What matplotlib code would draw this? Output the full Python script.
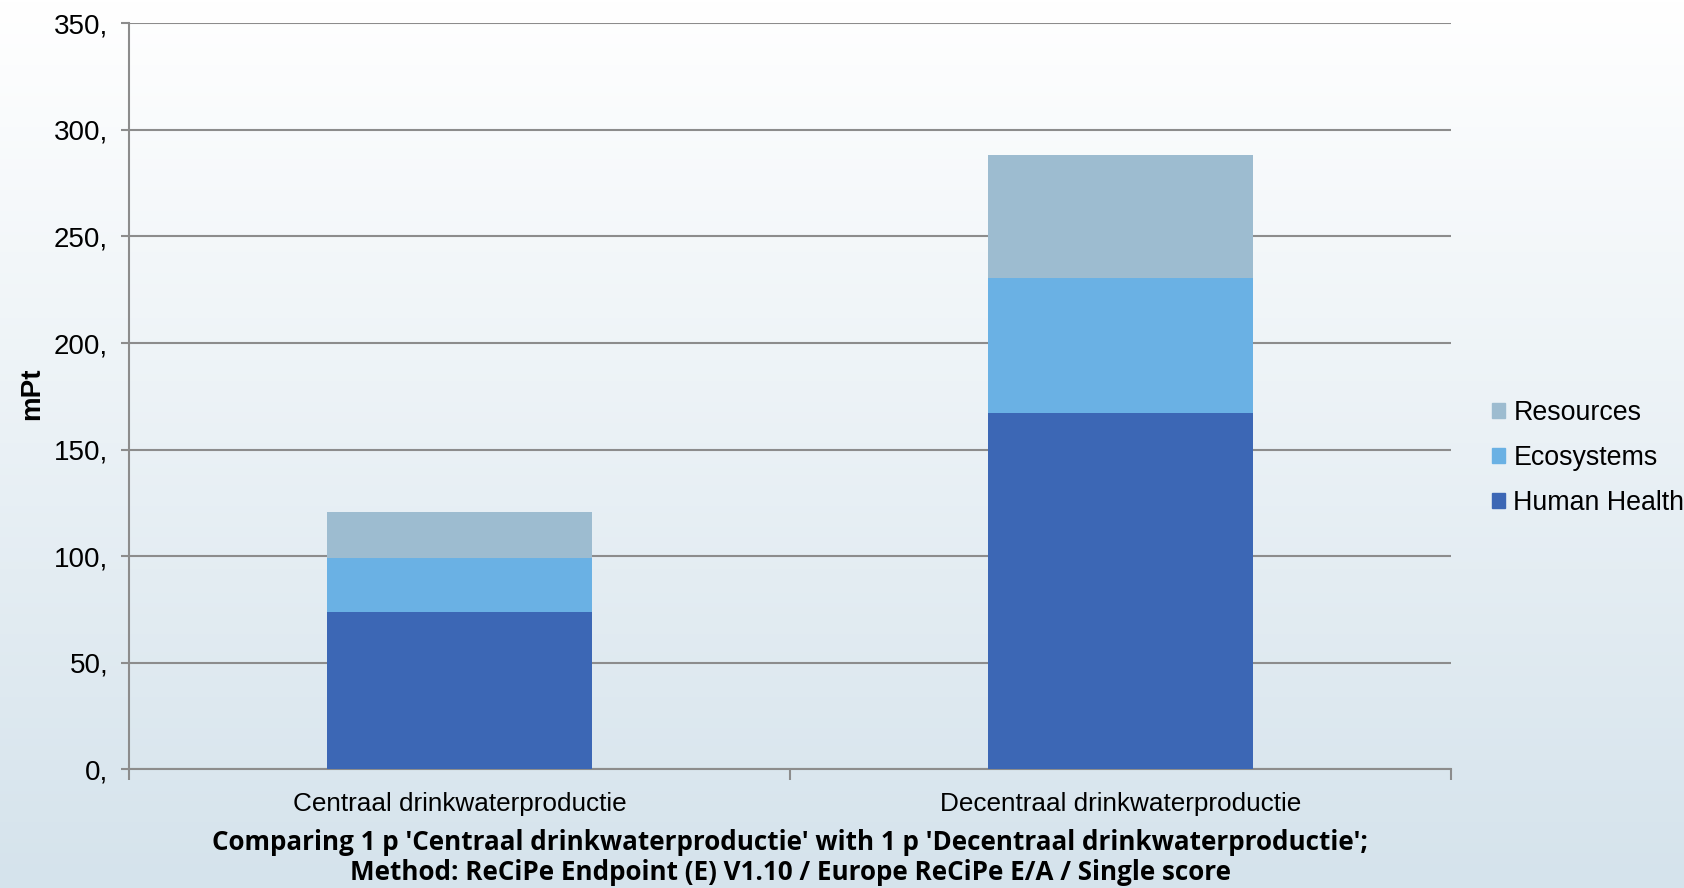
import matplotlib
matplotlib.use("Agg")
import matplotlib.pyplot as plt
import numpy as np
from matplotlib.ticker import FuncFormatter
from matplotlib.patches import Patch

categories = ["Centraal drinkwaterproductie", "Decentraal drinkwaterproductie"]
human_health = [74.0, 167.3]
ecosystems = [25.0, 63.4]
resources = [21.9, 57.6]
series_names = ["Human Health", "Ecosystems", "Resources"]
colors = ["#3c67b5", "#6ab1e4", "#9dbcd0"]
yticks = [0, 50, 100, 150, 200, 250, 300, 350]
title_lines = ["Comparing 1 p 'Centraal drinkwaterproductie' with 1 p 'Decentraal drinkwaterproductie';",
               "Method: ReCiPe Endpoint (E) V1.10 / Europe ReCiPe E/A / Single score"]

W, H = 1684, 888
fig = plt.figure(figsize=(W / 100, H / 100), dpi=100)

# gradient background
bg = fig.add_axes([0, 0, 1, 1], zorder=-10)
grad = np.linspace(0, 1, 256).reshape(-1, 1)
c_top = np.array([1.0, 1.0, 1.0])
c_bot = np.array([0xd5, 0xe3, 0xec]) / 255
img = c_top[None, None, :] * (1 - grad[:, :, None]) + c_bot[None, None, :] * grad[:, :, None]
bg.imshow(img, aspect="auto", extent=[0, 1, 0, 1])
bg.set_axis_off()

ax = fig.add_axes([129 / W, 1 - 769.3 / H, (1451 - 129) / W, (769.3 - 23.3) / H])
ax.patch.set_alpha(0)

x = np.arange(len(categories))
width = 0.4
data = [human_health, ecosystems, resources]
bottom = np.zeros(len(categories))
for vals, c in zip(data, colors):
    ax.bar(x, vals, width, bottom=bottom, color=c, zorder=3, edgecolor="none")
    bottom += np.array(vals)

ax.set_xlim(-0.5, 1.5)
ax.set_ylim(0, 350)
ax.set_yticks(yticks)
ax.yaxis.set_major_formatter(FuncFormatter(lambda v, p: f"{int(v)},"))
ax.grid(axis="y", color="#8c8c8c", linewidth=1.5, zorder=1)
ax.set_axisbelow(True)

for s in ["top", "right"]:
    ax.spines[s].set_visible(False)
for s in ["left", "bottom"]:
    ax.spines[s].set_color("#8c8c8c")
    ax.spines[s].set_linewidth(1.5)

ax.set_xticks([-0.5, 0.5, 1.5])
ax.set_xticklabels([])
ax.set_xticks(x, minor=True)
ax.set_xticklabels(categories, minor=True, fontsize=18.8, family="Liberation Sans")
ax.tick_params(axis="x", which="minor", length=0, pad=16)
ax.tick_params(axis="x", which="major", length=8, width=1.5, color="#8c8c8c")
ax.tick_params(axis="y", length=6, width=1.5, color="#8c8c8c", pad=9,
               labelsize=20)
for lab in ax.get_yticklabels():
    lab.set_family("Liberation Sans")

fig.text(32 / W, 1 - 394 / H, "mPt", rotation=90, ha="center", va="center",
         fontsize=20, fontweight="bold", family="Liberation Sans")

fig.text(790 / W, 1 - 842 / H, title_lines[0], ha="center", va="center",
         fontsize=18.7, fontweight="bold", family="Open Sans")
fig.text(790 / W, 1 - 872 / H, title_lines[1], ha="center", va="center",
         fontsize=18.7, fontweight="bold", family="Open Sans")

handles = [Patch(color=c, label=n) for n, c in zip(series_names, colors)][::-1]
leg = fig.legend(handles=handles, loc="center left", bbox_to_anchor=(1492 / W, 1 - 458 / H),
                 frameon=False, handlelength=0.5, handleheight=0.5, borderaxespad=0,
                 borderpad=0, handletextpad=0.3, labelspacing=0.72,
                 prop={"family": "Liberation Sans", "size": 19.3})

fig.savefig("out.png", dpi=100)
